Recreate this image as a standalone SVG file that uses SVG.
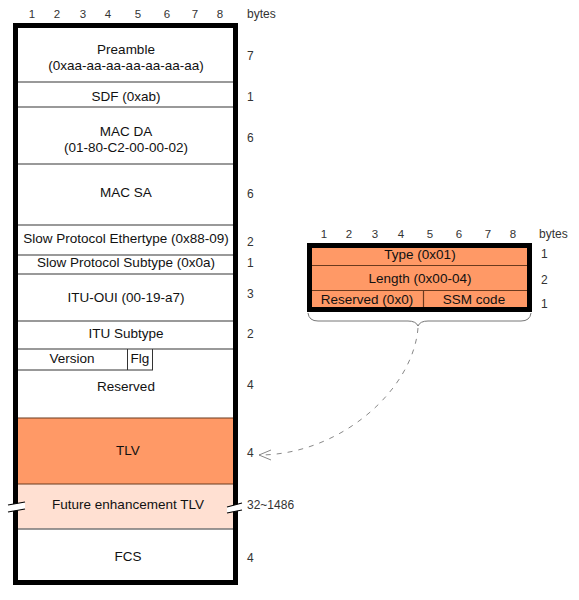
<svg xmlns="http://www.w3.org/2000/svg" width="579" height="600" viewBox="0 0 579 600">
<style>
text{font-family:"Liberation Sans",Arial,sans-serif;}
.lbl{font-size:13.5px;fill:#111;text-anchor:middle;}
.num{font-size:12px;fill:#333;}
.hdr{font-size:11.5px;fill:#333;text-anchor:middle;}
.sep{stroke:#777;stroke-width:1.5;fill:none;}
.sep2{stroke:#6b3a1e;stroke-width:1.2;fill:none;}
</style>
<defs>
<marker id="arr" markerWidth="14" markerHeight="12" refX="13" refY="6" orient="auto" markerUnits="userSpaceOnUse">
<path d="M1,1 L13,6 L1,11" fill="none" stroke="#888" stroke-width="1"/>
</marker>
</defs>
<rect width="579" height="600" fill="#fff"/>

<g id="header-left">
<text class="hdr" x="32" y="18">1</text>
<text class="hdr" x="57" y="18">2</text>
<text class="hdr" x="83" y="18">3</text>
<text class="hdr" x="108" y="18">4</text>
<text class="hdr" x="138" y="18">5</text>
<text class="hdr" x="167" y="18">6</text>
<text class="hdr" x="195" y="18">7</text>
<text class="hdr" x="220" y="18">8</text>
<text class="num" x="247" y="18">bytes</text>
</g>

<g id="frame">
<rect x="13" y="418" width="222" height="66" fill="#FF9966"/>
<rect x="13" y="484" width="222" height="45" fill="#FFE0D2"/>
<rect x="15.5" y="25.5" width="220" height="557" fill="none" stroke="#000" stroke-width="5"/>
<line class="sep" x1="18" y1="82" x2="233" y2="82"/>
<line class="sep" x1="18" y1="107" x2="233" y2="107"/>
<line class="sep" x1="18" y1="164" x2="233" y2="164"/>
<line class="sep" x1="18" y1="225" x2="233" y2="225"/>
<line class="sep" x1="18" y1="255" x2="233" y2="255"/>
<line class="sep" x1="18" y1="274" x2="233" y2="274"/>
<line class="sep" x1="18" y1="321" x2="233" y2="321"/>
<line class="sep" x1="18" y1="349" x2="233" y2="349"/>
<line stroke="#333" stroke-width="1" x1="18" y1="370" x2="153" y2="370"/>
<line stroke="#333" stroke-width="1" x1="127.5" y1="349" x2="127.5" y2="370"/>
<line stroke="#333" stroke-width="1" x1="152.5" y1="349" x2="152.5" y2="370"/>
<line stroke="#6b3a1e" stroke-width="1.2" x1="18" y1="418" x2="233" y2="418"/>
<line stroke="#6b3a1e" stroke-width="1" x1="18" y1="484" x2="233" y2="484"/>
<line class="sep" x1="18" y1="529" x2="233" y2="529"/>
</g>

<g id="breaks">
<polygon points="8,505 25,502 25,509 8,512" fill="#fff"/>
<line x1="8" y1="505" x2="25" y2="502" stroke="#000" stroke-width="1.2"/>
<line x1="8" y1="512" x2="25" y2="509" stroke="#000" stroke-width="1.2"/>
<polygon points="227,507 242,503 242,510 227,513" fill="#fff"/>
<line x1="227" y1="507" x2="242" y2="503" stroke="#000" stroke-width="1.2"/>
<line x1="227" y1="513" x2="242" y2="510" stroke="#000" stroke-width="1.2"/>
</g>

<g id="preamble"><text class="lbl" x="126" y="54">Preamble</text><text class="lbl" x="126" y="70">(0xaa-aa-aa-aa-aa-aa-aa)</text><text class="num" x="247" y="60">7</text></g>
<g id="sdf"><text class="lbl" x="126" y="101">SDF (0xab)</text><text class="num" x="247" y="101">1</text></g>
<g id="mac-da"><text class="lbl" x="126" y="136">MAC DA</text><text class="lbl" x="126" y="152">(01-80-C2-00-00-02)</text><text class="num" x="247" y="142">6</text></g>
<g id="mac-sa"><text class="lbl" x="126" y="197">MAC SA</text><text class="num" x="247" y="198">6</text></g>
<g id="ethertype"><text class="lbl" x="126" y="243">Slow Protocol Ethertype (0x88-09)</text><text class="num" x="247" y="246">2</text></g>
<g id="subtype"><text class="lbl" x="126" y="267">Slow Protocol Subtype (0x0a)</text><text class="num" x="247" y="267">1</text></g>
<g id="itu-oui"><text class="lbl" x="126" y="302">ITU-OUI (00-19-a7)</text><text class="num" x="247" y="298">3</text></g>
<g id="itu-subtype"><text class="lbl" x="126" y="338">ITU Subtype</text><text class="num" x="247" y="338">2</text></g>
<g id="version"><text class="lbl" x="72" y="363">Version</text></g>
<g id="flg"><text class="lbl" x="140" y="363">Flg</text></g>
<g id="reserved"><text class="lbl" x="126" y="391">Reserved</text><text class="num" x="247" y="389">4</text></g>
<g id="tlv"><text class="lbl" x="128" y="455">TLV</text><text class="num" x="247" y="457">4</text></g>
<g id="future"><text class="lbl" x="128" y="509">Future enhancement TLV</text><text class="num" x="247" y="509">32~1486</text></g>
<g id="fcs"><text class="lbl" x="128" y="561">FCS</text><text class="num" x="247" y="562">4</text></g>

<g id="header-right">
<text class="hdr" x="324" y="238">1</text>
<text class="hdr" x="349" y="238">2</text>
<text class="hdr" x="375" y="238">3</text>
<text class="hdr" x="401" y="238">4</text>
<text class="hdr" x="430" y="238">5</text>
<text class="hdr" x="459" y="238">6</text>
<text class="hdr" x="488" y="238">7</text>
<text class="hdr" x="513" y="238">8</text>
<text class="num" x="539" y="238">bytes</text>
</g>

<g id="tlv-detail">
<rect x="309.5" y="245.5" width="220" height="64" fill="#FF9966" stroke="#000" stroke-width="5"/>
<line class="sep2" x1="312" y1="265.5" x2="527" y2="265.5"/>
<line class="sep2" x1="312" y1="290.5" x2="527" y2="290.5"/>
<line class="sep2" x1="423.5" y1="291" x2="423.5" y2="307"/>
</g>
<g id="type"><text class="lbl" x="420" y="259">Type (0x01)</text><text class="num" x="541" y="258">1</text></g>
<g id="length"><text class="lbl" x="420" y="283">Length (0x00-04)</text><text class="num" x="541" y="284">2</text></g>
<g id="reserved-0"><text class="lbl" x="367" y="304">Reserved (0x0)</text><text class="num" x="541" y="308">1</text></g>
<g id="ssm"><text class="lbl" x="474" y="304">SSM code</text></g>

<g id="connectors">
<path d="M308,313 Q309,321 318,321 L408,321 Q416,321 418,326 Q420,321 428,321 L521,321 Q530,321 531,313" fill="none" stroke="#777" stroke-width="1"/>
<path d="M418,328 C413,390 340,455 259,455" fill="none" stroke="#888" stroke-width="1" stroke-dasharray="5,6" marker-end="url(#arr)"/>
</g>
</svg>
